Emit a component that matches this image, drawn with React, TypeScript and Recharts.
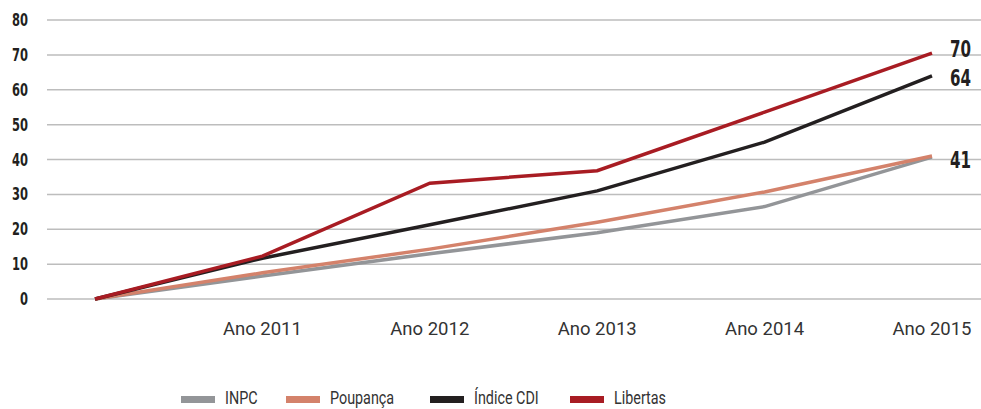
import { LineChart, Line, XAxis, YAxis, CartesianGrid } from 'recharts';

const years = ['', 'Ano 2011', 'Ano 2012', 'Ano 2013', 'Ano 2014', 'Ano 2015'];
const inpc = [0, 6.6, 13, 19, 26.5, 40.7];
const poupanca = [0, 7.5, 14.3, 22, 30.7, 41];
const cdi = [0, 11.7, 21.3, 31, 45, 64];
const libertas = [0, 12.3, 33.2, 36.8, 53.6, 70.5];
const yTicks = [0, 10, 20, 30, 40, 50, 60, 70, 80];
const endLabels = { inpc: '', poupanca: '41', cdi: '64', libertas: '70' };

const data = years.map((year, i) => ({
  year,
  inpc: inpc[i],
  poupanca: poupanca[i],
  cdi: cdi[i],
  libertas: libertas[i],
}));

const series = [
  { key: 'inpc', name: 'INPC', color: '#939598', dy: 0, legendWidth: 105 },
  { key: 'poupanca', name: 'Poupança', color: '#d4826b', dy: 4, legendWidth: 144 },
  { key: 'cdi', name: 'Índice CDI', color: '#231f20', dy: 2, legendWidth: 140 },
  { key: 'libertas', name: 'Libertas', color: '#a81c23', dy: -4, legendWidth: 120 },
];

const boldFont = '"DejaVu Sans Condensed", "DejaVu Sans", sans-serif';
const textFont = 'Roboto, sans-serif';

function makeEndLabel(text: string, dy: number) {
  return (props: any) => {
    const { x, y, index } = props;
    if (index !== years.length - 1 || !text) return null;
    return (
      <text
        x={x + 18}
        y={y + dy}
        dominantBaseline="central"
        fontFamily={boldFont}
        fontWeight="bold"
        fontSize={23}
        textLength={21}
        lengthAdjust="spacingAndGlyphs"
        fill="#231f20"
      >
        {text}
      </text>
    );
  };
}

function YTick(props: any) {
  const { x, y, payload } = props;
  const s = String(payload.value);
  return (
    <text
      x={x}
      y={y}
      textAnchor="end"
      dominantBaseline="central"
      fontFamily={boldFont}
      fontWeight="bold"
      fontSize={17}
      textLength={s.length * 8}
      lengthAdjust="spacingAndGlyphs"
      fill="#231f20"
    >
      {s}
    </text>
  );
}

function ChartLegend() {
  return (
    <div
      style={{
        position: 'absolute',
        left: 181,
        top: 388,
        display: 'flex',
        alignItems: 'center',
        fontFamily: textFont,
        fontSize: 17.5,
        color: '#333',
        whiteSpace: 'nowrap',
      }}
    >
      {series.map((s) => (
        <div key={s.key} style={{ display: 'flex', alignItems: 'center', width: s.legendWidth }}>
          <span style={{ display: 'inline-block', width: 34, height: 7, background: s.color, marginRight: 10, marginTop: 3 }} />
          <span style={{ display: 'inline-block', transform: 'scaleX(0.82)', transformOrigin: 'left center' }}>{s.name}</span>
        </div>
      ))}
    </div>
  );
}

export default function App() {
  return (
    <div style={{ position: 'fixed', top: 0, left: 0, width: 981, height: 409, background: '#fff' }}>
      <LineChart width={981} height={409} data={data} margin={{ top: 20, right: 0, left: 0, bottom: 80 }}>
        <CartesianGrid horizontal={true} vertical={false} stroke="#bdbdbd" strokeWidth={1.5} />
        <XAxis
          dataKey="year"
          height={30}
          axisLine={false}
          tickLine={false}
          tickSize={0}
          tickMargin={23}
          padding={{ left: 48, right: 49 }}
          interval={0}
          tick={{ fontFamily: textFont, fontSize: 18.5, fill: '#333' }}
        />
        <YAxis
          width={47}
          domain={[0, 80]}
          ticks={yTicks}
          axisLine={false}
          tickLine={false}
          tickSize={0}
          tickMargin={19}
          tick={<YTick />}
        />
        {series.map((s) => (
          <Line
            key={s.key}
            name={s.name}
            type="linear"
            dataKey={s.key}
            stroke={s.color}
            strokeWidth={3.5}
            dot={false}
            activeDot={false}
            isAnimationActive={false}
            label={makeEndLabel(endLabels[s.key as keyof typeof endLabels], s.dy)}
          />
        ))}
      </LineChart>
      <ChartLegend />
    </div>
  );
}
